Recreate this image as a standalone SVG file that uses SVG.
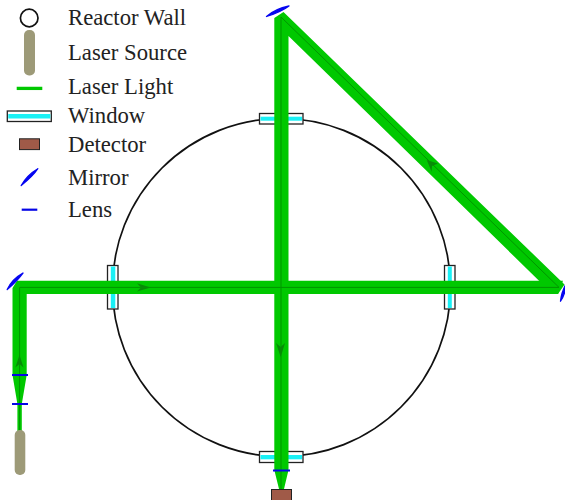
<svg xmlns="http://www.w3.org/2000/svg" width="565" height="500" viewBox="0 0 565 500">
<defs><style>
text{font-family:"Liberation Serif","Times New Roman",serif;font-size:22.700px;fill:#222}
.win{fill:#fff;stroke:#222;stroke-width:1.300}
.cy{fill:#1af0f5}
.mir{fill:#0505f0;stroke:#0505f0;stroke-width:1.300;stroke-linejoin:round}
.lens{stroke:#0505e6;stroke-width:2.200;fill:none}
.beam{fill:#00c800}
.core{fill:none;stroke:#009400;stroke-width:1}
.las{fill:#9d9a78}
.det{fill:#a05a48;stroke:#222;stroke-width:1}
.arr{fill:#078c07}
</style></defs>
<rect width="565" height="500" fill="#fff"/>
<g id="reactor-wall"><circle cx="281.500" cy="287.500" r="169" fill="none" stroke="#111" stroke-width="1.700"/></g>
<g id="windows">
<g id="window-top"><rect class="win" x="259.500" y="113.500" width="43.500" height="10.500"/><rect class="cy" x="260.500" y="116.700" width="41.500" height="4"/></g>
<g id="window-bottom"><rect class="win" x="259.500" y="451.500" width="43.500" height="11"/><rect class="cy" x="260.500" y="455" width="41.500" height="4.300"/></g>
<g id="window-left"><rect class="win" x="107.500" y="265.500" width="10.500" height="43.500"/><rect class="cy" x="110.800" y="266.500" width="4.500" height="41.500"/></g>
<g id="window-right"><rect class="win" x="444.500" y="265.500" width="10.500" height="43.500"/><rect class="cy" x="447.800" y="266.500" width="4" height="41.500"/></g>
</g>
<g id="connectors">
<path class="beam" d="M12.500 375V288L17 280.700H563L558 294H26.700V375Z"/>
<path class="beam" d="M12.500 375H26.700L21.800 404V431H17.400V404Z"/>
<path class="beam" d="M283.500 12L564.500 284.500L558 294L539 280.700L288.500 36V470L284 489H279L274.300 470V18Z"/>
<path class="core" d="M19.600 431V287.400H559L281 17V489"/>
<path class="arr" d="M150.700 287.400L137 283.300L141 287.400L137 291.500Z"/>
<path class="arr" d="M19.500 355L15.300 367.500L19.500 364L23.500 367.500Z"/>
<path class="arr" d="M280.700 357L276 343L280.700 347L285 343Z"/>
<path class="arr" d="M426.700 160L438 163.500L432 166L431.700 171.700Z"/>
</g>
<g id="mirror-top"><path class="mir" d="M266.500 16.500Q275 9 289 6Q281 12 266.500 16.500Z"/></g>
<g id="mirror-left"><path class="mir" d="M7.200 289.500Q12 279 23 273Q17 281 7.200 289.500Z"/></g>
<g id="mirror-right"><path class="mir" d="M560.500 301.200Q561.500 292 566 284Q565.500 294 560.500 301.200Z"/></g>
<g id="lenses"><path class="lens" d="M12 375H28M12 404H28M273 470.500H290"/></g>
<g id="laser-source"><rect class="las" x="14.700" y="430" width="10.600" height="45" rx="5"/></g>
<g id="detector"><rect class="det" x="271.500" y="489.500" width="20" height="12"/></g>
<g id="legend">
<circle cx="29.200" cy="18" r="8.800" fill="#fff" stroke="#111" stroke-width="1.700"/>
<rect class="las" x="24" y="30" width="11" height="45.500" rx="5"/>
<path d="M16.700 88.400H42.300" stroke="#00c800" stroke-width="3.300" fill="none"/>
<rect class="win" x="7.300" y="111" width="44" height="10.500"/><rect class="cy" x="8.300" y="114" width="42" height="4.500"/>
<rect class="det" x="19.500" y="138.800" width="20" height="10.800"/>
<path class="mir" d="M21.200 185.500Q27 175 37.800 168.700Q33 176 21.200 185.500Z"/>
<path class="lens" d="M21.700 209.700H37.300"/>
<text x="68" y="25">Reactor Wall</text>
<text x="68" y="60">Laser Source</text>
<text x="68" y="93.500">Laser Light</text>
<text x="68" y="123">Window</text>
<text x="68" y="152">Detector</text>
<text x="68" y="185">Mirror</text>
<text x="68" y="217">Lens</text>
</g>
</svg>
